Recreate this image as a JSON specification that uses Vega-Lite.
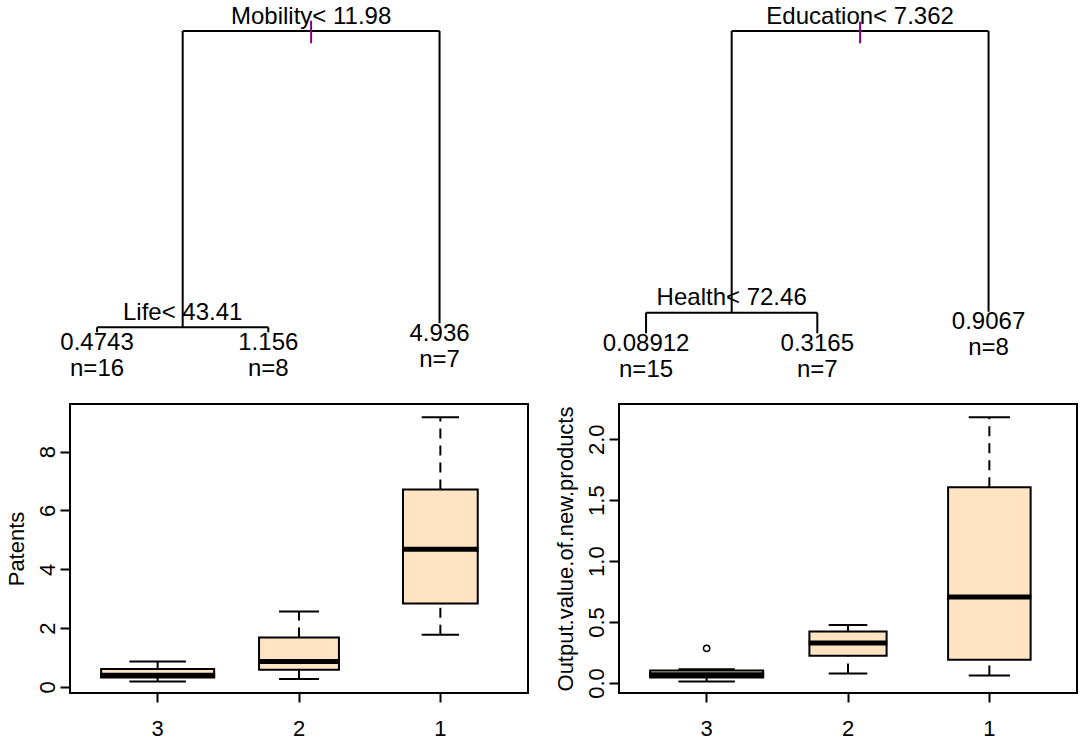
{
  "$schema": "https://vega.github.io/schema/vega-lite/v6.json",
  "background": "white",
  "padding": {"left": 4, "top": 0, "right": 0, "bottom": 0},
  "columns": 2,
  "bounds": "flush",
  "spacing": {"row": 24, "column": 91},
  "config": {
    "font": "Liberation Sans",
    "view": {"stroke": null},
    "tick": {"opacity": 1},
    "point": {"opacity": 1},
    "axis": {
      "grid": false, "domain": false,
      "labelFont": "Liberation Sans", "titleFont": "Liberation Sans",
      "labelFontSize": 22, "titleFontSize": 22,
      "labelColor": "#000", "titleColor": "#000", "tickColor": "#000",
      "tickWidth": 2, "titleFontWeight": "normal",
      "labelFlush": false, "labelOverlap": false
    },
    "axisX": {"tickSize": 9, "labelPadding": 16, "labelAngle": 0},
    "axisY": {
      "tickSize": 10, "labelPadding": 1, "labelAngle": 270,
      "labelAlign": "center", "labelBaseline": "bottom",
      "titleAngle": 270, "titleAlign": "center", "titleBaseline": "bottom",
      "titlePadding": 8, "minExtent": 34, "maxExtent": 34
    }
  },
  "datasets": {
    "t1_edges": [
      {"x": 1.5, "x2": 3, "y": 1, "y2": 1},
      {"x": 1.5, "x2": 1.5, "y": 1, "y2": 0.0166},
      {"x": 3, "x2": 3, "y": 1, "y2": 0.0299},
      {"x": 1, "x2": 2, "y": 0.0166, "y2": 0.0166},
      {"x": 1, "x2": 1, "y": 0.0166, "y2": 0},
      {"x": 2, "x2": 2, "y": 0.0166, "y2": 0}
    ],
    "t1_mark": [{"x": 2.25, "y": 1.0342, "y2": 0.9592}],
    "t1_splits": [
      {"x": 2.25, "y": 1, "label": "Mobility< 11.98"},
      {"x": 1.5, "y": 0.0166, "label": "Life< 43.41"}
    ],
    "t1_leaves": [
      {"x": 1, "y": 0, "value": "0.4743", "n": "n=16"},
      {"x": 2, "y": 0, "value": "1.156", "n": "n=8"},
      {"x": 3, "y": 0.0299, "value": "4.936", "n": "n=7"}
    ],
    "t2_edges": [
      {"x": 1.5, "x2": 3, "y": 1, "y2": 1},
      {"x": 1.5, "x2": 1.5, "y": 1, "y2": 0.0651},
      {"x": 3, "x2": 3, "y": 1, "y2": 0.0684},
      {"x": 1, "x2": 2, "y": 0.0651, "y2": 0.0651},
      {"x": 1, "x2": 1, "y": 0.0651, "y2": -0.0033},
      {"x": 2, "x2": 2, "y": 0.0651, "y2": -0.0033}
    ],
    "t2_mark": [{"x": 2.25, "y": 1.0309, "y2": 0.9592}],
    "t2_splits": [
      {"x": 2.25, "y": 1, "label": "Education< 7.362"},
      {"x": 1.5, "y": 0.0651, "label": "Health< 72.46"}
    ],
    "t2_leaves": [
      {"x": 1, "y": -0.0033, "value": "0.08912", "n": "n=15"},
      {"x": 2, "y": -0.0033, "value": "0.3165", "n": "n=7"},
      {"x": 3, "y": 0.0684, "value": "0.9067", "n": "n=8"}
    ],
    "box1": [
      {"group": "3", "low": 0.19, "q1": 0.327, "median": 0.40, "q3": 0.61, "high": 0.87, "n": 16},
      {"group": "2", "low": 0.27, "q1": 0.587, "median": 0.87, "q3": 1.684, "high": 2.567, "n": 8},
      {"group": "1", "low": 1.776, "q1": 2.84, "median": 4.686, "q3": 6.71, "high": 9.17, "n": 7}
    ],
    "box2": [
      {"group": "3", "low": 0.013, "q1": 0.046, "median": 0.068, "q3": 0.103, "high": 0.112, "n": 15},
      {"group": "2", "low": 0.079, "q1": 0.224, "median": 0.328, "q3": 0.423, "high": 0.475, "n": 7},
      {"group": "1", "low": 0.062, "q1": 0.191, "median": 0.705, "q3": 1.607, "high": 2.18, "n": 8}
    ],
    "box2_out": [
      {"group": "3", "value": 0.284}
    ]
  },
  "concat": [
    {
      "width": 458, "height": 380,
      "view": {"stroke": null},
      "layer": [
        {
          "data": {"name": "t1_edges"},
          "mark": {"type": "rule", "color": "#000", "strokeWidth": 2},
          "encoding": {
            "x": {"field": "x", "type": "quantitative", "scale": {"domain": [0.842, 3.5165], "nice": false, "zero": false}, "axis": null},
            "x2": {"field": "x2"},
            "y": {"field": "y", "type": "quantitative", "scale": {"domain": [-0.1583, 1.1029], "nice": false, "zero": false}, "axis": null},
            "y2": {"field": "y2"}
          }
        },
        {
          "data": {"name": "t1_mark"},
          "mark": {"type": "rule", "color": "#800080", "strokeWidth": 2},
          "encoding": {
            "x": {"field": "x", "type": "quantitative", "scale": {"domain": [0.842, 3.5165], "nice": false, "zero": false}, "axis": null},
            "y": {"field": "y", "type": "quantitative", "scale": {"domain": [-0.1583, 1.1029], "nice": false, "zero": false}, "axis": null},
            "y2": {"field": "y2"}
          }
        },
        {
          "data": {"name": "t1_splits"},
          "mark": {"type": "text", "fontSize": 24, "dy": -7.5, "baseline": "alphabetic", "align": "center", "color": "#000", "font": "Liberation Sans"},
          "encoding": {
            "x": {"field": "x", "type": "quantitative", "scale": {"domain": [0.842, 3.5165], "nice": false, "zero": false}, "axis": null},
            "y": {"field": "y", "type": "quantitative", "scale": {"domain": [-0.1583, 1.1029], "nice": false, "zero": false}, "axis": null},
            "text": {"field": "label"}
          }
        },
        {
          "data": {"name": "t1_leaves"},
          "mark": {"type": "text", "fontSize": 24, "dy": 17.5, "baseline": "alphabetic", "align": "center", "color": "#000", "font": "Liberation Sans"},
          "encoding": {
            "x": {"field": "x", "type": "quantitative", "scale": {"domain": [0.842, 3.5165], "nice": false, "zero": false}, "axis": null},
            "y": {"field": "y", "type": "quantitative", "scale": {"domain": [-0.1583, 1.1029], "nice": false, "zero": false}, "axis": null},
            "text": {"field": "value"}
          }
        },
        {
          "data": {"name": "t1_leaves"},
          "mark": {"type": "text", "fontSize": 24, "dy": 43.5, "baseline": "alphabetic", "align": "center", "color": "#000", "font": "Liberation Sans"},
          "encoding": {
            "x": {"field": "x", "type": "quantitative", "scale": {"domain": [0.842, 3.5165], "nice": false, "zero": false}, "axis": null},
            "y": {"field": "y", "type": "quantitative", "scale": {"domain": [-0.1583, 1.1029], "nice": false, "zero": false}, "axis": null},
            "text": {"field": "n"}
          }
        }
      ]
    },
    {
      "width": 458, "height": 380,
      "view": {"stroke": null},
      "layer": [
        {
          "data": {"name": "t2_edges"},
          "mark": {"type": "rule", "color": "#000", "strokeWidth": 2},
          "encoding": {
            "x": {"field": "x", "type": "quantitative", "scale": {"domain": [0.842, 3.5165], "nice": false, "zero": false}, "axis": null},
            "x2": {"field": "x2"},
            "y": {"field": "y", "type": "quantitative", "scale": {"domain": [-0.1583, 1.1029], "nice": false, "zero": false}, "axis": null},
            "y2": {"field": "y2"}
          }
        },
        {
          "data": {"name": "t2_mark"},
          "mark": {"type": "rule", "color": "#800080", "strokeWidth": 2},
          "encoding": {
            "x": {"field": "x", "type": "quantitative", "scale": {"domain": [0.842, 3.5165], "nice": false, "zero": false}, "axis": null},
            "y": {"field": "y", "type": "quantitative", "scale": {"domain": [-0.1583, 1.1029], "nice": false, "zero": false}, "axis": null},
            "y2": {"field": "y2"}
          }
        },
        {
          "data": {"name": "t2_splits"},
          "mark": {"type": "text", "fontSize": 24, "dy": -7.5, "baseline": "alphabetic", "align": "center", "color": "#000", "font": "Liberation Sans"},
          "encoding": {
            "x": {"field": "x", "type": "quantitative", "scale": {"domain": [0.842, 3.5165], "nice": false, "zero": false}, "axis": null},
            "y": {"field": "y", "type": "quantitative", "scale": {"domain": [-0.1583, 1.1029], "nice": false, "zero": false}, "axis": null},
            "text": {"field": "label"}
          }
        },
        {
          "data": {"name": "t2_leaves"},
          "mark": {"type": "text", "fontSize": 24, "dy": 17.5, "baseline": "alphabetic", "align": "center", "color": "#000", "font": "Liberation Sans"},
          "encoding": {
            "x": {"field": "x", "type": "quantitative", "scale": {"domain": [0.842, 3.5165], "nice": false, "zero": false}, "axis": null},
            "y": {"field": "y", "type": "quantitative", "scale": {"domain": [-0.1583, 1.1029], "nice": false, "zero": false}, "axis": null},
            "text": {"field": "value"}
          }
        },
        {
          "data": {"name": "t2_leaves"},
          "mark": {"type": "text", "fontSize": 24, "dy": 43.5, "baseline": "alphabetic", "align": "center", "color": "#000", "font": "Liberation Sans"},
          "encoding": {
            "x": {"field": "x", "type": "quantitative", "scale": {"domain": [0.842, 3.5165], "nice": false, "zero": false}, "axis": null},
            "y": {"field": "y", "type": "quantitative", "scale": {"domain": [-0.1583, 1.1029], "nice": false, "zero": false}, "axis": null},
            "text": {"field": "n"}
          }
        }
      ]
    },
    {
      "width": 458, "height": 289,
      "view": {"stroke": "#000", "strokeWidth": 2},
      "data": {"name": "box1"},
      "encoding": {
        "x": {"field": "group", "type": "nominal", "scale": {"domain": ["3", "2", "1"], "paddingInner": 0, "paddingOuter": 0.12}, "axis": {"title": null}}
      },
      "layer": [
        {
          "mark": {"type": "rule", "strokeDash": [10, 7], "strokeWidth": 2, "color": "#000"},
          "encoding": {
            "y": {"field": "low", "type": "quantitative", "title": "Patents", "scale": {"domain": [-0.204, 9.62], "nice": false, "zero": false}, "axis": {"values": [0, 2, 4, 6, 8]}},
            "y2": {"field": "q1"}
          }
        },
        {
          "mark": {"type": "rule", "strokeDash": [10, 7], "strokeWidth": 2, "color": "#000"},
          "encoding": {
            "y": {"field": "q3", "type": "quantitative", "title": "Patents", "scale": {"domain": [-0.204, 9.62], "nice": false, "zero": false}},
            "y2": {"field": "high"}
          }
        },
        {
          "mark": {"type": "tick", "thickness": 2, "color": "#000", "opacity": 1},
          "encoding": {
            "y": {"field": "low", "type": "quantitative", "title": "Patents", "scale": {"domain": [-0.204, 9.62], "nice": false, "zero": false}},
            "size": {"field": "n", "type": "quantitative", "scale": {"type": "sqrt", "domain": [0, 16], "range": [0, 56.5]}, "legend": null}
          }
        },
        {
          "mark": {"type": "tick", "thickness": 2, "color": "#000", "opacity": 1},
          "encoding": {
            "y": {"field": "high", "type": "quantitative", "title": "Patents", "scale": {"domain": [-0.204, 9.62], "nice": false, "zero": false}},
            "size": {"field": "n", "type": "quantitative", "scale": {"type": "sqrt", "domain": [0, 16], "range": [0, 56.5]}, "legend": null}
          }
        },
        {
          "mark": {"type": "bar", "fill": "#FFE4C4", "stroke": "#000", "strokeWidth": 2, "opacity": 1},
          "encoding": {
            "y": {"field": "q1", "type": "quantitative", "title": "Patents", "scale": {"domain": [-0.204, 9.62], "nice": false, "zero": false}},
            "y2": {"field": "q3"},
            "size": {"field": "n", "type": "quantitative", "scale": {"type": "sqrt", "domain": [0, 16], "range": [0, 113]}, "legend": null}
          }
        },
        {
          "mark": {"type": "tick", "thickness": 5, "color": "#000", "opacity": 1},
          "encoding": {
            "y": {"field": "median", "type": "quantitative", "title": "Patents", "scale": {"domain": [-0.204, 9.62], "nice": false, "zero": false}},
            "size": {"field": "n", "type": "quantitative", "scale": {"type": "sqrt", "domain": [0, 16], "range": [0, 115]}, "legend": null}
          }
        }
      ],
      "resolve": {"scale": {"size": "independent"}}
    },
    {
      "width": 458, "height": 289,
      "view": {"stroke": "#000", "strokeWidth": 2},
      "data": {"name": "box2"},
      "encoding": {
        "x": {"field": "group", "type": "nominal", "scale": {"domain": ["3", "2", "1"], "paddingInner": 0, "paddingOuter": 0.12}, "axis": {"title": null}}
      },
      "layer": [
        {
          "mark": {"type": "rule", "strokeDash": [10, 7], "strokeWidth": 2, "color": "#000"},
          "encoding": {
            "y": {"field": "low", "type": "quantitative", "title": "Output.value.of.new.products", "scale": {"domain": [-0.082, 2.289], "nice": false, "zero": false}, "axis": {"values": [0, 0.5, 1, 1.5, 2], "format": ".1f"}},
            "y2": {"field": "q1"}
          }
        },
        {
          "mark": {"type": "rule", "strokeDash": [10, 7], "strokeWidth": 2, "color": "#000"},
          "encoding": {
            "y": {"field": "q3", "type": "quantitative", "title": "Output.value.of.new.products", "scale": {"domain": [-0.082, 2.289], "nice": false, "zero": false}},
            "y2": {"field": "high"}
          }
        },
        {
          "mark": {"type": "tick", "thickness": 2, "color": "#000", "opacity": 1},
          "encoding": {
            "y": {"field": "low", "type": "quantitative", "title": "Output.value.of.new.products", "scale": {"domain": [-0.082, 2.289], "nice": false, "zero": false}},
            "size": {"field": "n", "type": "quantitative", "scale": {"type": "sqrt", "domain": [0, 15], "range": [0, 56.5]}, "legend": null}
          }
        },
        {
          "mark": {"type": "tick", "thickness": 2, "color": "#000", "opacity": 1},
          "encoding": {
            "y": {"field": "high", "type": "quantitative", "title": "Output.value.of.new.products", "scale": {"domain": [-0.082, 2.289], "nice": false, "zero": false}},
            "size": {"field": "n", "type": "quantitative", "scale": {"type": "sqrt", "domain": [0, 15], "range": [0, 56.5]}, "legend": null}
          }
        },
        {
          "mark": {"type": "bar", "fill": "#FFE4C4", "stroke": "#000", "strokeWidth": 2, "opacity": 1},
          "encoding": {
            "y": {"field": "q1", "type": "quantitative", "title": "Output.value.of.new.products", "scale": {"domain": [-0.082, 2.289], "nice": false, "zero": false}},
            "y2": {"field": "q3"},
            "size": {"field": "n", "type": "quantitative", "scale": {"type": "sqrt", "domain": [0, 15], "range": [0, 113]}, "legend": null}
          }
        },
        {
          "mark": {"type": "tick", "thickness": 5, "color": "#000", "opacity": 1},
          "encoding": {
            "y": {"field": "median", "type": "quantitative", "title": "Output.value.of.new.products", "scale": {"domain": [-0.082, 2.289], "nice": false, "zero": false}},
            "size": {"field": "n", "type": "quantitative", "scale": {"type": "sqrt", "domain": [0, 15], "range": [0, 115]}, "legend": null}
          }
        },
        {
          "data": {"name": "box2_out"},
          "mark": {"type": "point", "shape": "circle", "filled": false, "color": "#000", "strokeWidth": 1.5, "size": 40, "opacity": 1},
          "encoding": {
            "y": {"field": "value", "type": "quantitative", "title": "Output.value.of.new.products", "scale": {"domain": [-0.082, 2.289], "nice": false, "zero": false}}
          }
        }
      ],
      "resolve": {"scale": {"size": "independent"}}
    }
  ]
}
